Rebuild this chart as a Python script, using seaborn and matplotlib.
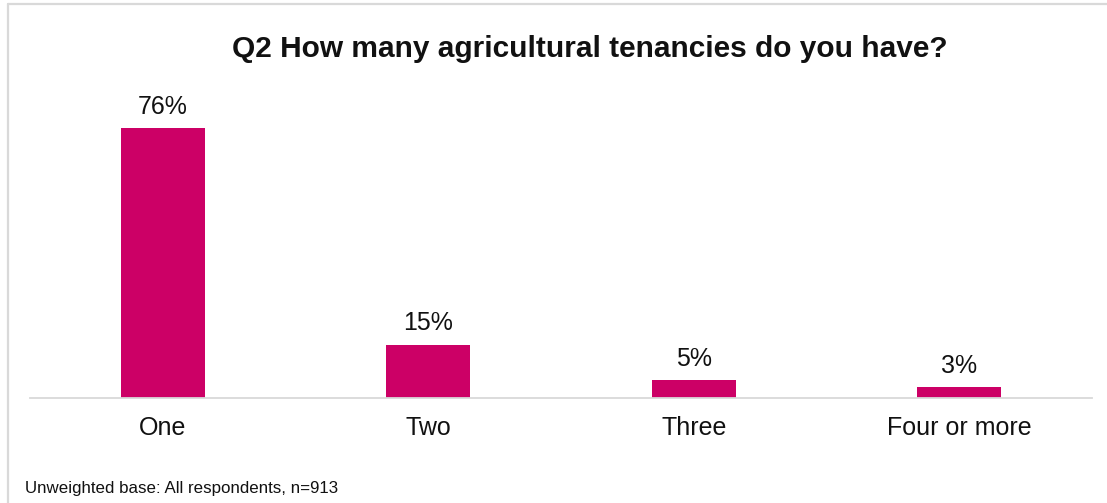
import matplotlib
matplotlib.use("Agg")
import matplotlib.pyplot as plt
from matplotlib.lines import Line2D
import seaborn as sns
import pandas as pd

# Survey results
categories = ["One", "Two", "Three", "Four or more"]
shares = [76, 15, 5, 3]
value_labels = ["76%", "15%", "5%", "3%"]

title = "Q2 How many agricultural tenancies do you have?"
footnote = "Unweighted base: All respondents, n=913"

bar_color = "#CC0066"
text_color = "#111111"
grid_grey = "#D9D9D9"

sns.set_theme(style="white")
plt.rcParams["font.family"] = ["Liberation Sans", "DejaVu Sans"]

W, H, DPI = 1107, 503, 100
fig = plt.figure(figsize=(W / DPI, H / DPI), dpi=DPI)
fig.patch.set_facecolor("white")

# axes: x from 30px to 1092px, baseline at 398px, 3.55px per percentage point
left, right = 30, 1092
base_y = 398
top_y = base_y - 100 * 3.55
ax = fig.add_axes([left / W, (H - base_y) / H, (right - left) / W, (base_y - top_y) / H])

df = pd.DataFrame({"category": categories, "share": shares})
sns.barplot(data=df, x="category", y="share", color=bar_color, saturation=1,
            width=0.316, ax=ax, edgecolor="none")

ax.set_xlim(-0.5, 3.5)
ax.set_ylim(0, 100)
ax.set_xlabel("")
ax.set_ylabel("")
ax.set_yticks([])
ax.tick_params(axis="x", length=0, pad=12.8, labelsize=18, labelcolor=text_color)
for side in ["top", "left", "right"]:
    ax.spines[side].set_visible(False)
ax.spines["bottom"].set_color(grid_grey)
ax.spines["bottom"].set_linewidth(1.3)
ax.patch.set_alpha(0)

for bar, lab in zip(ax.patches, value_labels):
    ax.annotate(lab, (bar.get_x() + bar.get_width() / 2, bar.get_height()),
                xytext=(0, 10.5), textcoords="offset points",
                ha="center", va="baseline", fontsize=18, color=text_color)

fig.text(590 / W, 1 - 49 / H, title, ha="center", va="center",
         fontsize=21.5, fontweight="bold", color=text_color)
fig.text(25 / W, 1 - 489 / H, footnote, ha="left", va="center",
         fontsize=12.2, color=text_color)

# light frame along the top and left edges
fig.add_artist(Line2D([7.5 / W, 7.5 / W], [0, 1 - 3.5 / H], transform=fig.transFigure,
                      color=grid_grey, linewidth=1.6))
fig.add_artist(Line2D([7.5 / W, 1], [1 - 3.5 / H, 1 - 3.5 / H], transform=fig.transFigure,
                      color=grid_grey, linewidth=1.6))

fig.savefig("out.png", dpi=DPI, facecolor="white")
